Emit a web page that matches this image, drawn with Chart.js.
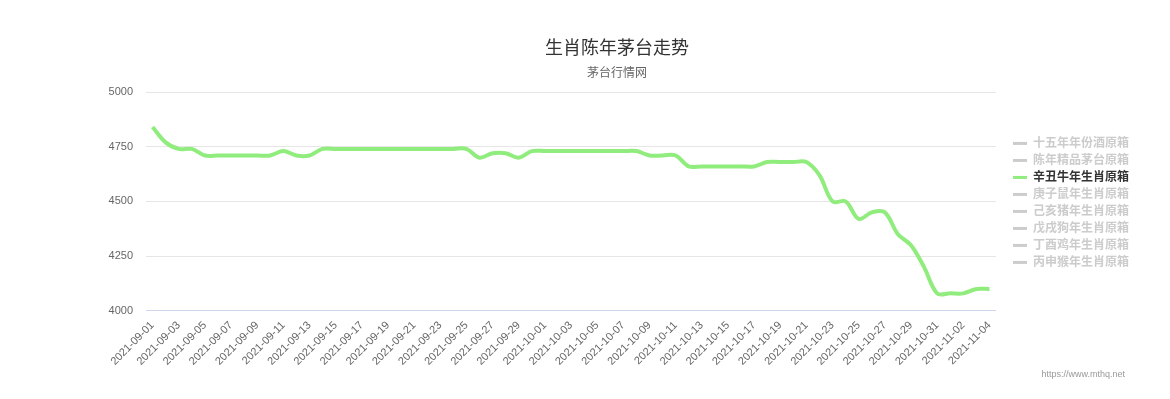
<!DOCTYPE html>
<html>
<head>
<meta charset="utf-8">
<title>生肖陈年茅台走势</title>
<script src="https://cdn.jsdelivr.net/npm/chart.js@4.4.0/dist/chart.umd.min.js"></script>
<style>
  html, body { margin: 0; padding: 0; background: #fff; }
  #wrap { width: 1170px; height: 399px; }
</style>
</head>
<body>
<div id="wrap"><canvas id="chart" width="1170" height="399"></canvas></div>
<script>
const FONT = '"Liberation Sans", "Noto Sans CJK SC", sans-serif'

const dates = [
  '2021-09-01', '2021-09-02', '2021-09-03', '2021-09-04', '2021-09-05', '2021-09-06', '2021-09-07', '2021-09-08',
  '2021-09-09', '2021-09-10', '2021-09-11', '2021-09-12', '2021-09-13', '2021-09-14', '2021-09-15', '2021-09-16',
  '2021-09-17', '2021-09-18', '2021-09-19', '2021-09-20', '2021-09-21', '2021-09-22', '2021-09-23', '2021-09-24',
  '2021-09-25', '2021-09-26', '2021-09-27', '2021-09-28', '2021-09-29', '2021-09-30', '2021-10-01', '2021-10-02',
  '2021-10-03', '2021-10-04', '2021-10-05', '2021-10-06', '2021-10-07', '2021-10-08', '2021-10-09', '2021-10-10',
  '2021-10-11', '2021-10-12', '2021-10-13', '2021-10-14', '2021-10-15', '2021-10-16', '2021-10-17', '2021-10-18',
  '2021-10-19', '2021-10-20', '2021-10-21', '2021-10-22', '2021-10-23', '2021-10-24', '2021-10-25', '2021-10-26',
  '2021-10-27', '2021-10-28', '2021-10-29', '2021-10-30', '2021-10-31', '2021-11-01', '2021-11-02', '2021-11-03',
  '2021-11-04'
]

// 辛丑牛年生肖原箱 - the only series switched on
const xinChouPrices = [
  4840, 4770, 4740, 4740, 4710, 4710, 4710, 4710,
  4710, 4710, 4730, 4710, 4710, 4740, 4740, 4740,
  4740, 4740, 4740, 4740, 4740, 4740, 4740, 4740,
  4740, 4700, 4720, 4720, 4700, 4730, 4730, 4730,
  4730, 4730, 4730, 4730, 4730, 4730, 4710, 4710,
  4710, 4660, 4660, 4660, 4660, 4660, 4660, 4680,
  4680, 4680, 4680, 4620, 4500, 4500, 4420, 4450,
  4450, 4350, 4300, 4200, 4080, 4080, 4080, 4100,
  4100
]

const seriesNames = [
  '十五年年份酒原箱', '陈年精品茅台原箱', '辛丑牛年生肖原箱', '庚子鼠年生肖原箱',
  '己亥猪年生肖原箱', '戊戌狗年生肖原箱', '丁酉鸡年生肖原箱', '丙申猴年生肖原箱'
]
const seriesColors = ['#7cb5ec', '#434348', '#90ed7d', '#f7a35c', '#8085e9', '#f15c80', '#e4d354', '#2b908f']
const shownSeries = '辛丑牛年生肖原箱'

const yTicks = [4000, 4250, 4500, 4750, 5000]

const datasets = seriesNames.map((name, i) => ({
  label: name,
  data: name === shownSeries ? xinChouPrices : [],
  hidden: name !== shownSeries,
  borderColor: seriesColors[i],
  backgroundColor: seriesColors[i],
  borderWidth: 4,
  pointRadius: 0,
  pointHoverRadius: 0,
  tension: 0.35,
  fill: false
}))

// small credits text in the bottom right corner
const credits = {
  id: 'credits',
  afterDraw(chart) {
    const ctx = chart.ctx
    ctx.save()
    ctx.font = '9px ' + FONT
    ctx.fillStyle = '#999999'
    ctx.textAlign = 'right'
    ctx.textBaseline = 'alphabetic'
    ctx.fillText('https://www.mthq.net', 1125, 377)
    ctx.restore()
  }
}

new Chart(document.getElementById('chart'), {
  type: 'line',
  data: { labels: dates, datasets },
  plugins: [credits],
  options: {
    responsive: false,
    animation: false,
    devicePixelRatio: 1,
    layout: { padding: { left: 95, right: 31, top: 0, bottom: 23 } },
    plugins: {
      tooltip: { enabled: false },
      title: {
        display: true,
        text: '生肖陈年茅台走势',
        color: '#333333',
        font: { size: 18, weight: 'normal', family: FONT },
        padding: { top: 38, bottom: 0 }
      },
      subtitle: {
        display: true,
        text: '茅台行情网',
        color: '#666666',
        font: { size: 12, family: FONT },
        padding: { top: 7, bottom: 11 }
      },
      legend: {
        position: 'right',
        fullSize: false,
        // empty title only nudges the item column down a little
        title: { display: true, text: '', font: { size: 2.5 }, padding: 0 },
        labels: {
          boxWidth: 14,
          boxHeight: 3,
          padding: 5,
          font: { size: 12, weight: 'bold', family: FONT },
          generateLabels(chart) {
            return chart.data.datasets.map((ds, i) => {
              const off = !chart.isDatasetVisible(i)
              return {
                text: ds.label,
                fillStyle: off ? '#cccccc' : ds.borderColor,
                strokeStyle: off ? '#cccccc' : ds.borderColor,
                lineWidth: 0,
                fontColor: off ? '#cccccc' : '#333333',
                hidden: false,
                datasetIndex: i
              }
            })
          }
        }
      }
    },
    scales: {
      x: {
        offset: true,
        grid: { display: false, drawTicks: false },
        border: { display: true, color: '#ccd6eb', width: 1 },
        ticks: {
          autoSkip: false,
          minRotation: 45,
          maxRotation: 45,
          padding: 8,
          color: '#666666',
          font: { size: 11, family: FONT },
          callback(value, index) {
            return index % 2 === 0 ? this.getLabelForValue(value) : ''
          }
        }
      },
      y: {
        min: yTicks[0],
        max: yTicks[yTicks.length - 1],
        afterBuildTicks(scale) {
          scale.ticks = yTicks.map(v => ({ value: v }))
        },
        afterFit(scale) {
          scale.width = 51
        },
        grid: { color: '#e6e6e6', drawTicks: false },
        border: { display: false },
        ticks: {
          padding: 13,
          color: '#666666',
          font: { size: 11, family: FONT },
          callback: value => String(value)
        }
      },
      gap: {
        position: 'right',
        grid: { display: false, drawTicks: false },
        border: { display: false },
        ticks: { display: false },
        afterFit(scale) {
          scale.width = 12
        }
      }
    }
  }
})
</script>
</body>
</html>
